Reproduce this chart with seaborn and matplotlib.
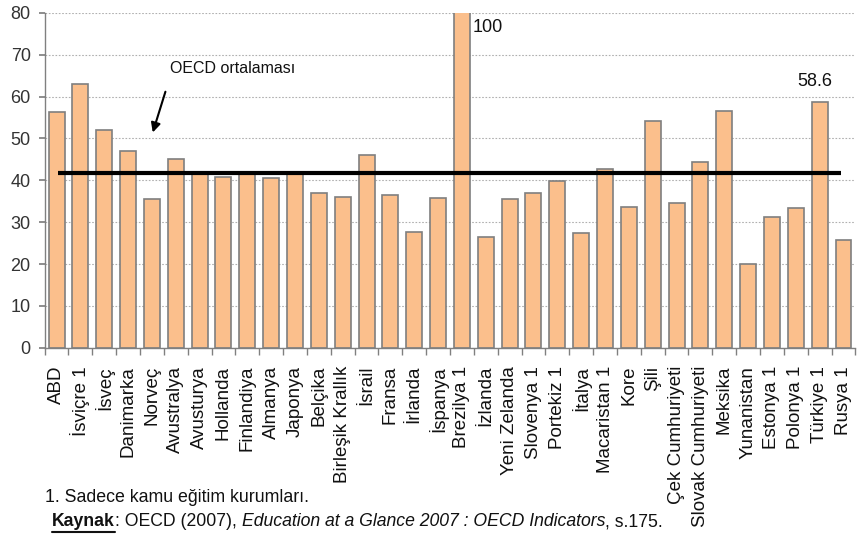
import matplotlib
matplotlib.use("Agg")
import matplotlib.pyplot as plt
import seaborn as sns
import pandas as pd

countries = ["ABD", "İsviçre 1", "İsveç", "Danimarka", "Norveç", "Avustralya", "Avusturya",
             "Hollanda", "Finlandiya", "Almanya", "Japonya", "Belçika", "Birleşik Krallık",
             "İsrail", "Fransa", "İrlanda", "İspanya", "Brezilya 1", "İzlanda", "Yeni Zelanda",
             "Slovenya 1", "Portekiz 1", "İtalya", "Macaristan 1", "Kore", "Şili",
             "Çek Cumhuriyeti", "Slovak Cumhuriyeti", "Meksika", "Yunanistan", "Estonya 1",
             "Polonya 1", "Türkiye 1", "Rusya 1"]
values = [56.3, 63.0, 52.0, 46.9, 35.5, 45.1, 42.0, 40.9, 42.0, 40.5, 42.0, 36.9, 36.0,
          46.1, 36.5, 27.6, 35.7, 100.0, 26.4, 35.5, 37.1, 39.9, 27.5, 42.6, 33.7, 54.2,
          34.7, 44.3, 56.6, 20.0, 31.2, 33.5, 58.6, 25.8]
oecd_avg = 41.8
y_ticks = [0, 10, 20, 30, 40, 50, 60, 70, 80]

df = pd.DataFrame({"country": countries, "value": values})

sns.set_theme(style="white")
plt.rcParams["font.family"] = ["Liberation Sans", "DejaVu Sans"]

fig = plt.figure(figsize=(8.58, 5.36), dpi=100)
ax = fig.add_axes([0.052, 0.351, 0.945, 0.625])

sns.barplot(data=df, x="country", y="value", color="#FBBF8C", saturation=1,
            edgecolor="#7f7f7f", linewidth=1.2, width=0.67, ax=ax)

ax.set_ylim(0, 80)
ax.set_xlim(-0.5, len(countries) - 0.5)
ax.set_yticks(y_ticks)
ax.set_yticklabels([str(t) for t in y_ticks], fontsize=13, color="#333333")
ax.set_xlabel("")
ax.set_ylabel("")
ax.yaxis.grid(True, linestyle=(0, (1.5, 1.5)), color="#b0b0b0", linewidth=0.8)
ax.set_axisbelow(True)

for s in ["top", "right"]:
    ax.spines[s].set_visible(False)
for s in ["left", "bottom"]:
    ax.spines[s].set_color("#808080")
    ax.spines[s].set_linewidth(1.0)

ax.set_xticks(range(len(countries)))
ax.set_xticklabels(countries, rotation=90, fontsize=13.5, color="#111111")
ax.tick_params(axis="x", which="major", length=0, pad=13)
ax.set_xticks([i - 0.5 for i in range(len(countries) + 1)], minor=True)
ax.tick_params(axis="x", which="minor", length=5, color="#808080", width=1, direction="out", bottom=True)
ax.tick_params(axis="y", length=4, color="#808080", left=True, pad=6)

# OECD average line
ax.plot([0.05, 32.9], [oecd_avg, oecd_avg], color="black", linewidth=3, solid_capstyle="butt", zorder=5)

ax.annotate("", xy=(4.0, 50.8), xytext=(4.6, 61.8),
            arrowprops=dict(arrowstyle="-|>", color="black", lw=1.5, mutation_scale=14))
ax.text(7.4, 66.8, "OECD ortalaması", fontsize=11.5, ha="center", va="center", color="#111111")

idx_br = countries.index("Brezilya 1")
ax.text(idx_br + 0.45, 76.4, "100", fontsize=13, ha="left", va="center", color="#111111")
idx_tr = countries.index("Türkiye 1")
ax.text(idx_tr - 0.2, 63.7, f"{values[idx_tr]:.1f}", fontsize=13, ha="center", va="center", color="#111111")

# Footnotes
fig.text(45 / 858, 1 - 497 / 536, "1. Sadece kamu eğitim kurumları.", fontsize=12.8,
         ha="left", va="center", color="#111111")

fig.canvas.draw()
r = fig.canvas.get_renderer()
x0 = 52
y0 = 1 - 522 / 536
pieces = [("Kaynak", dict(weight="bold")), (": OECD (2007), ", {}),
          ("Education at a Glance 2007 : OECD Indicators", dict(style="italic")),
          (", s.175.", {})]
xp = x0
for txt, kw in pieces:
    t = fig.text(xp / 858, y0, txt, fontsize=12.7, ha="left", va="center", color="#111111", **kw)
    bb = t.get_window_extent(renderer=r)
    if txt == "Kaynak":
        fig.add_artist(plt.Line2D([bb.x0 / 858, bb.x1 / 858], [(bb.y0 - 1) / 536] * 2,
                                  color="#111111", linewidth=1.5, transform=fig.transFigure))
    xp = bb.x1

fig.savefig("out.png", dpi=100)
